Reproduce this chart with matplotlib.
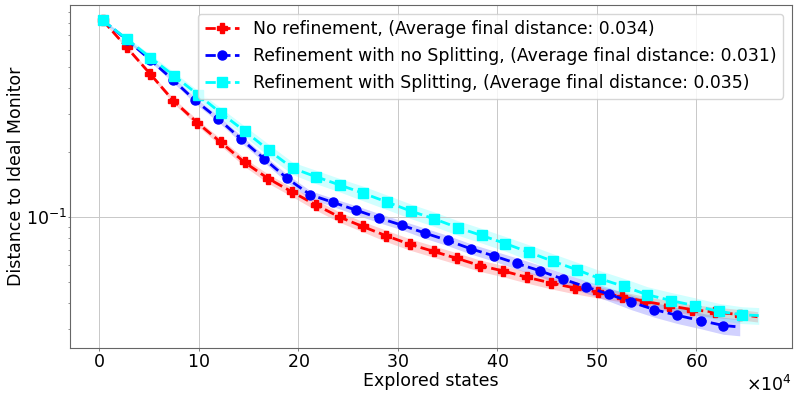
import matplotlib
matplotlib.use("Agg")
import matplotlib.pyplot as plt
import numpy as np

# ---- data ----
x_none = [3700, 27800, 51300, 74700, 98500, 122100, 146200, 169800, 194000, 217400,
          241500, 264600, 288100, 312100, 336000, 359500, 382400, 406000, 430200, 454300,
          477600, 501500, 525300, 548700, 572200, 595700, 619100, 643500, 661300]
y_none = [0.821, 0.615, 0.463, 0.347, 0.275, 0.223, 0.1795, 0.151, 0.1307, 0.1141,
          0.100, 0.0904, 0.0819, 0.0747, 0.0692, 0.0642, 0.0595, 0.0561, 0.0524, 0.0493,
          0.0468, 0.0447, 0.0426, 0.0405, 0.0387, 0.0371, 0.0361, 0.0352, 0.0344]
s_none = [0.011, 0.016, 0.022, 0.027, 0.033, 0.038, 0.044, 0.049, 0.049, 0.055,
          0.055, 0.055, 0.061, 0.061, 0.061, 0.061, 0.061, 0.061, 0.061, 0.061,
          0.061, 0.061, 0.055, 0.055, 0.055, 0.055, 0.055, 0.055, 0.055]

x_nosplit = [3700, 27800, 51300, 74100, 96500, 119900, 142700, 166100, 188900, 212100,
             235200, 258300, 281400, 304200, 327300, 350300, 373200, 396700, 419800, 442500,
             465600, 488700, 511900, 534700, 557800, 580900, 604300, 627100, 643500]
y_nosplit = [0.821, 0.668, 0.539, 0.435, 0.3485, 0.2857, 0.2305, 0.1861, 0.1512, 0.1270,
             0.1169, 0.1076, 0.0989, 0.0916, 0.0842, 0.0778, 0.0712, 0.0659, 0.0608, 0.0563,
             0.0515, 0.0474, 0.0438, 0.0402, 0.0371, 0.0349, 0.0330, 0.0313, 0.0308]
s_nosplit = [0.011, 0.016, 0.022, 0.027, 0.033, 0.033, 0.038, 0.038, 0.044, 0.044,
             0.044, 0.049, 0.049, 0.049, 0.055, 0.055, 0.055, 0.055, 0.061, 0.061,
             0.066, 0.066, 0.072, 0.078, 0.078, 0.084, 0.084, 0.090, 0.090]

x_split = [3700, 27800, 51600, 74900, 99300, 122300, 146700, 170700, 194300, 217900,
           241700, 265300, 289200, 313100, 336900, 360100, 384200, 408000, 431900, 455800,
           479700, 503500, 526900, 550700, 574600, 599000, 622400, 645900, 662600]
y_split = [0.821, 0.673, 0.551, 0.455, 0.371, 0.3046, 0.2501, 0.2040, 0.1687, 0.1539,
           0.1409, 0.1290, 0.1174, 0.1066, 0.0979, 0.0893, 0.0821, 0.0753, 0.0685, 0.0623,
           0.0569, 0.0516, 0.0476, 0.0435, 0.0409, 0.0386, 0.0364, 0.0351, 0.0348]
s_split = [0.016, 0.022, 0.033, 0.038, 0.044, 0.055, 0.055, 0.066, 0.066, 0.072,
           0.072, 0.078, 0.078, 0.078, 0.078, 0.078, 0.078, 0.078, 0.084, 0.084,
           0.084, 0.090, 0.090, 0.090, 0.090, 0.090, 0.090, 0.090, 0.090]

labels = ["No refinement, (Average final distance: 0.034)",
          "Refinement with no Splitting, (Average final distance: 0.031)",
          "Refinement with Splitting, (Average final distance: 0.035)"]

series = [
    (x_none, y_none, s_none, "red", "P", 7),
    (x_nosplit, y_nosplit, s_nosplit, "blue", "o", 6.5),
    (x_split, y_split, s_split, "cyan", "s", 6.5),
]

fig = plt.figure(figsize=(7.97, 3.95), dpi=100)
ax = fig.add_axes([70/797, 1 - 348/395, (792 - 70)/797, (348 - 5)/395])

for (x, y, s, c, m, ms), lab in zip(series, labels):
    x = np.asarray(x, float)
    y = np.asarray(y, float)
    s = np.asarray(s, float)
    ax.fill_between(x, y * (1 - s), y * (1 + s), color=c, alpha=0.18, linewidth=0)
    ax.plot(x, y, linestyle="--", color=c, marker=m, markersize=ms, linewidth=2,
            markevery=slice(0, len(x) - 1), label=lab)

ax.set_yscale("log")
ax.set_xlim(-29200, 696000)
ax.set_ylim(0.0246, 0.968)
ax.ticklabel_format(axis="x", style="sci", scilimits=(4, 4), useMathText=True)
ax.grid(True, which="major", color="#c8c8c8", linewidth=0.7)
for sp in ax.spines.values():
    sp.set_color("0.4")
    sp.set_linewidth(0.8)
ax.tick_params(axis="both", which="major", labelsize=12.5, length=2, width=0.6,
               pad=1.5, color="0.4")
ax.tick_params(axis="y", which="major", length=1.5, pad=0.5)
ax.tick_params(axis="both", which="minor", length=1.3, width=0.5, color="0.4")
ax.xaxis.get_offset_text().set_fontsize(12.5)
ax.set_xlabel("Explored states", fontsize=12.5, labelpad=1)
ax.set_ylabel("Distance to Ideal Monitor", fontsize=12.5, labelpad=1)
ax.legend(loc="upper right", fontsize=12.4)

fig.savefig("out.png", dpi=100)
